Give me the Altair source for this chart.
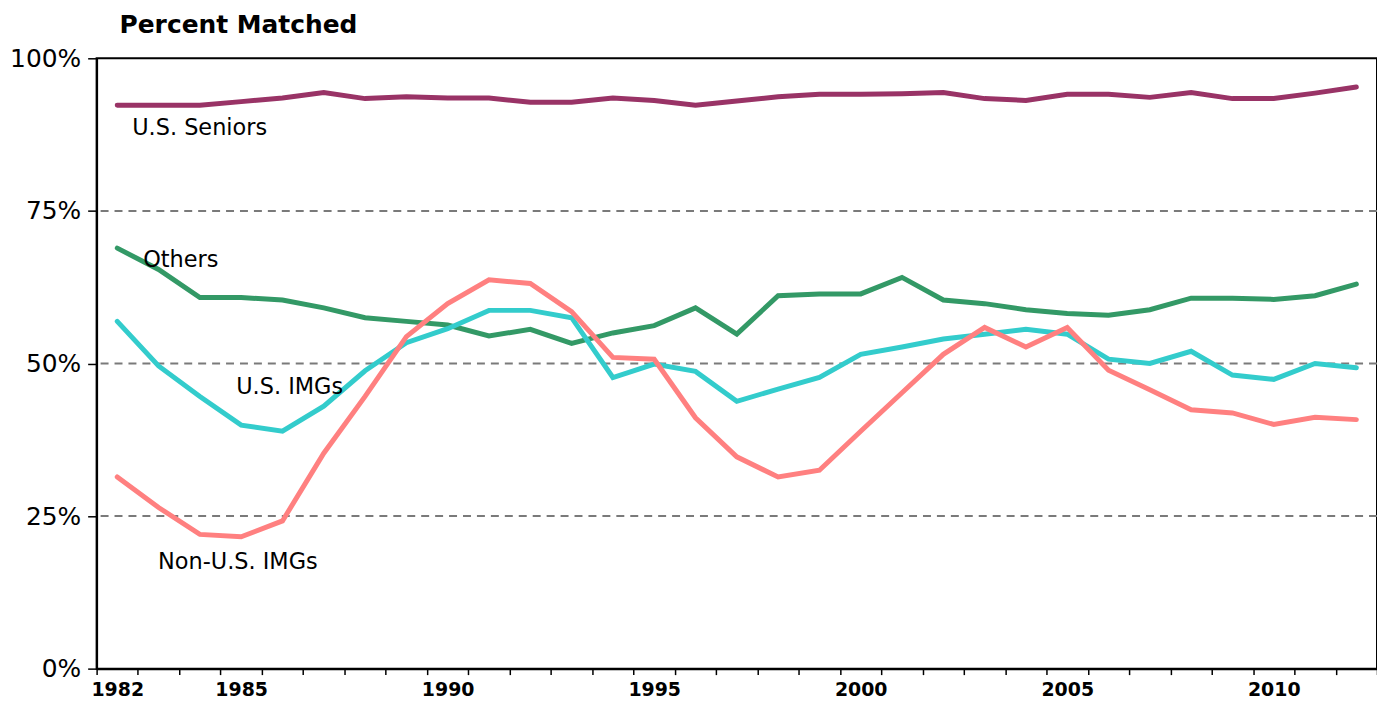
import altair as alt
import pandas as pd

# ---- data ----
years = list(range(1982, 2013))
labeled_years = [1982, 1985, 1990, 1995, 2000, 2005, 2010]
y_ticks = [0, 25, 50, 75, 100]
grid_values = [25, 50, 75]
chart_title = "Percent Matched"

series_names = ["U.S. Seniors", "Others", "U.S. IMGs", "Non-U.S. IMGs"]
seniors = [92.3, 92.3, 92.3, 92.9, 93.5, 94.4, 93.4, 93.7, 93.5, 93.5,
           92.8, 92.8, 93.5, 93.1, 92.3, 93.0, 93.7, 94.1, 94.1, 94.2,
           94.4, 93.4, 93.1, 94.1, 94.1, 93.6, 94.4, 93.4, 93.4, 94.3, 95.3]
others = [68.9, 65.4, 60.8, 60.8, 60.4, 59.1, 57.5, 56.9, 56.3, 54.5,
          55.6, 53.3, 55.0, 56.2, 59.1, 54.8, 61.1, 61.4, 61.4, 64.1,
          60.4, 59.8, 58.8, 58.2, 57.9, 58.8, 60.7, 60.7, 60.5, 61.1, 63.0]
us_imgs = [56.9, 49.6, 44.6, 39.9, 38.9, 43.0, 48.8, 53.4, 55.7, 58.7,
           58.7, 57.5, 47.7, 49.9, 48.7, 43.8, 45.8, 47.7, 51.5, 52.7,
           54.0, 54.8, 55.6, 54.8, 50.7, 50.0, 52.0, 48.1, 47.4, 50.0, 49.3]
non_us_imgs = [31.4, 26.4, 22.0, 21.6, 24.2, 35.3, 44.6, 54.4, 59.8, 63.7,
               63.1, 58.5, 51.0, 50.7, 41.1, 34.7, 31.4, 32.5, 38.9, 45.2,
               51.5, 55.9, 52.7, 55.9, 48.9, 45.7, 42.4, 41.9, 40.0, 41.2, 40.8]
series_values = [seniors, others, us_imgs, non_us_imgs]
series_colors = ["#993366", "#339966", "#33CCCC", "#FF8080"]

# label anchors (year, value) for the in-plot series names
label_years = [1982, 1982, 1985, 1982]
label_values = [88.5, 66.9, 46.2, 17.4]

FONT = "DejaVu Sans"
XLAB_SIZE = 19

# ---- scales / axes ----
x_scale = alt.Scale(type="band", domain=years, paddingInner=0, paddingOuter=0)
y_scale = alt.Scale(domain=[0, 100], nice=False)

lbl_list = ",".join(str(y) for y in labeled_years)
x_axis = alt.Axis(
    title=None, tickBand="extent", labelAngle=0, labelOverlap=False,
    labelExpr=f"indexof([{lbl_list}], datum.value) >= 0 ? datum.label : ''",
    labelFont=FONT, labelFontWeight="bold", labelFontSize=XLAB_SIZE, labelColor="black",
    labelPadding=6, tickColor="black", tickSize=6, tickWidth=1.5,
    domainColor="black", domainWidth=2, grid=False, labelLimit=0,
)
y_axis = alt.Axis(
    title=None, values=y_ticks, labelExpr="datum.value + '%'",
    labelFont=FONT, labelFontSize=25, labelColor="black", labelPadding=7,
    tickColor="black", tickSize=9, tickWidth=1.5,
    domainColor="black", domainWidth=2, grid=False,
)

X = alt.X("year:O", scale=x_scale, axis=x_axis)
Y = alt.Y("value:Q", scale=y_scale, axis=y_axis)

# ---- layers ----
grid_df = pd.DataFrame({"value": grid_values})
grid = alt.Chart(grid_df).mark_rule(
    color="#7a7a7a", strokeWidth=2, strokeDash=[8, 6]
).encode(y=Y)

layers = [grid]
for name, vals, col in zip(series_names, series_values, series_colors):
    df = pd.DataFrame({"year": years, "value": vals, "series": name})
    layers.append(
        alt.Chart(df).mark_line(color=col, strokeWidth=5, strokeCap="round")
        .encode(x=X, y=Y)
    )

label_dx = [15, 26, -5, 41]
for name, yr, v, dx in zip(series_names, label_years, label_values, label_dx):
    df = pd.DataFrame({"year": [yr], "value": [v], "series": [name]})
    layers.append(
        alt.Chart(df).mark_text(
            align="left", baseline="middle", dx=dx, font=FONT,
            fontSize=22.5, color="black"
        ).encode(x=X, y=Y, text="series:N")
    )

# chart title drawn as a text mark above the plot area
title_df = pd.DataFrame({"t": [chart_title]})
title = alt.Chart(title_df).mark_text(
    align="left", baseline="middle", font=FONT, fontSize=25,
    fontWeight="bold", color="black"
).encode(x=alt.value(23), y=alt.value(-33), text="t:N")
layers.append(title)

chart = alt.layer(*layers).properties(
    width=1286,
    height=613,
    autosize=alt.AutoSizeParams(type="none"),
    padding={"left": 89, "top": 49, "right": 0, "bottom": 35},
    background="white",
).configure_view(
    stroke="black", strokeWidth=2
)

chart.save("out.html", embed_options={"renderer": "svg", "actions": False})
